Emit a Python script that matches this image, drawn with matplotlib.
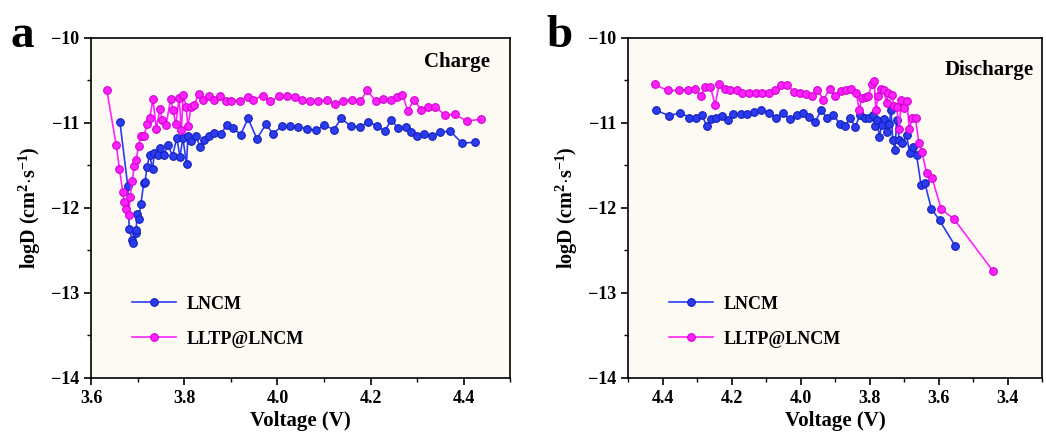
import numpy as np
import matplotlib
matplotlib.use('Agg')
import matplotlib.pyplot as plt
from matplotlib.ticker import MultipleLocator

plt.rcParams['font.family'] = 'Liberation Serif'
plt.rcParams['font.weight'] = 'bold'
plt.rcParams['mathtext.fontset'] = 'custom'
plt.rcParams['mathtext.rm'] = 'Liberation Serif:bold'
plt.rcParams['mathtext.bf'] = 'Liberation Serif:bold'

# ---- charge (panel a) ----
chg_lncm_v = [3.662, 3.679, 3.682, 3.689, 3.691, 3.696, 3.697, 3.699, 3.702, 3.707, 3.713, 3.716,
              3.720, 3.726, 3.732, 3.736, 3.743, 3.748, 3.757, 3.765, 3.775, 3.784, 3.791, 3.797,
              3.805, 3.808, 3.815, 3.825, 3.834, 3.843, 3.854, 3.864, 3.879, 3.891, 3.904, 3.921,
              3.937, 3.956, 3.975, 3.991, 4.009, 4.027, 4.045, 4.064, 4.082, 4.101, 4.121, 4.137,
              4.157, 4.177, 4.195, 4.214, 4.230, 4.244, 4.259, 4.275, 4.287, 4.300, 4.314, 4.332,
              4.348, 4.371, 4.396, 4.425]
chg_lncm_d = [-10.99, -11.75, -12.25, -12.38, -12.42, -12.30, -12.26, -12.07, -12.13, -11.96, -11.71, -11.70,
              -11.52, -11.38, -11.55, -11.36, -11.38, -11.30, -11.38, -11.26, -11.39, -11.18, -11.40, -11.18,
              -11.48, -11.16, -11.22, -11.16, -11.28, -11.20, -11.16, -11.12, -11.13, -11.03, -11.06, -11.14,
              -10.95, -11.19, -11.02, -11.13, -11.04, -11.04, -11.05, -11.07, -11.09, -11.03, -11.08, -10.95,
              -11.04, -11.05, -10.99, -11.04, -11.10, -10.97, -11.06, -11.05, -11.11, -11.16, -11.13, -11.16,
              -11.11, -11.10, -11.24, -11.23]

chg_lltp_v = [3.634, 3.654, 3.661, 3.668, 3.671, 3.675, 3.681, 3.684, 3.688, 3.693, 3.697, 3.702,
              3.707, 3.714, 3.720, 3.726, 3.733, 3.740, 3.748, 3.753, 3.761, 3.771, 3.776, 3.782,
              3.789, 3.794, 3.798, 3.804, 3.808, 3.815, 3.822, 3.831, 3.841, 3.854, 3.864, 3.877,
              3.889, 3.901, 3.920, 3.936, 3.948, 3.968, 3.984, 4.004, 4.020, 4.037, 4.052, 4.070,
              4.088, 4.107, 4.123, 4.141, 4.161, 4.177, 4.193, 4.211, 4.227, 4.243, 4.257, 4.268,
              4.280, 4.293, 4.309, 4.324, 4.339, 4.359, 4.380, 4.406, 4.436]
chg_lltp_d = [-10.62, -11.26, -11.54, -11.81, -11.93, -12.01, -12.09, -11.87, -11.69, -11.51, -11.44, -11.27,
              -11.16, -11.16, -11.01, -10.95, -10.72, -11.07, -10.84, -10.97, -11.03, -10.72, -10.85, -11.02,
              -10.71, -11.09, -10.67, -10.81, -11.04, -10.81, -10.79, -10.66, -10.73, -10.69, -10.73, -10.68,
              -10.75, -10.74, -10.74, -10.70, -10.73, -10.68, -10.75, -10.69, -10.68, -10.70, -10.73, -10.75,
              -10.75, -10.73, -10.78, -10.74, -10.73, -10.75, -10.62, -10.75, -10.72, -10.73, -10.70, -10.67,
              -10.86, -10.73, -10.85, -10.81, -10.81, -10.91, -10.90, -10.98, -10.96]

# ---- discharge (panel b) ----
dis_lncm_v = [4.421, 4.381, 4.349, 4.323, 4.304, 4.287, 4.272, 4.261, 4.246, 4.229, 4.212, 4.195,
              4.174, 4.155, 4.136, 4.114, 4.092, 4.073, 4.051, 4.032, 4.011, 3.993, 3.977, 3.958,
              3.940, 3.924, 3.905, 3.887, 3.871, 3.857, 3.842, 3.828, 3.813, 3.801, 3.791, 3.784,
              3.778, 3.772, 3.765, 3.759, 3.751, 3.743, 3.738, 3.733, 3.726, 3.722, 3.714, 3.705,
              3.693, 3.684, 3.674, 3.664, 3.651, 3.640, 3.621, 3.597, 3.552]
dis_lncm_d = [-10.85, -10.92, -10.88, -10.94, -10.95, -10.91, -11.04, -10.96, -10.95, -10.92, -10.97, -10.90,
              -10.90, -10.90, -10.87, -10.85, -10.88, -10.94, -10.89, -10.96, -10.91, -10.89, -10.93, -10.99,
              -10.85, -10.95, -10.91, -11.01, -11.04, -10.94, -11.05, -10.91, -10.95, -10.94, -10.91, -11.04,
              -10.97, -11.17, -11.03, -10.96, -11.11, -11.01, -10.85, -11.20, -11.32, -10.97, -11.20, -11.24,
              -11.15, -11.36, -11.28, -11.38, -11.73, -11.71, -12.01, -12.15, -12.45]

dis_lltp_v = [4.424, 4.386, 4.354, 4.328, 4.307, 4.289, 4.278, 4.262, 4.248, 4.237, 4.220, 4.205,
              4.186, 4.169, 4.150, 4.131, 4.111, 4.092, 4.076, 4.057, 4.039, 4.018, 4.001, 3.984,
              3.967, 3.953, 3.934, 3.916, 3.900, 3.884, 3.868, 3.854, 3.839, 3.830, 3.823, 3.811,
              3.804, 3.794, 3.787, 3.782, 3.775, 3.768, 3.759, 3.751, 3.746, 3.736, 3.730, 3.722,
              3.714, 3.708, 3.701, 3.692, 3.685, 3.676, 3.667, 3.657, 3.648, 3.635, 3.619, 3.592,
              3.556, 3.443]
dis_lltp_d = [-10.55, -10.62, -10.62, -10.61, -10.60, -10.69, -10.58, -10.58, -10.79, -10.55, -10.60, -10.61,
              -10.61, -10.65, -10.65, -10.65, -10.65, -10.65, -10.61, -10.56, -10.56, -10.64, -10.65, -10.66,
              -10.69, -10.61, -10.73, -10.60, -10.69, -10.63, -10.62, -10.60, -10.65, -10.85, -10.71, -10.70,
              -10.69, -10.54, -10.51, -10.85, -10.69, -10.60, -10.61, -10.77, -10.65, -10.67, -10.80, -10.81,
              -11.07, -10.73, -10.83, -10.75, -11.07, -10.95, -10.95, -11.24, -11.35, -11.59, -11.65, -12.02,
              -12.13, -12.74]

blue = '#2b3cf0'
blue_edge = '#1420b8'
pink = '#ff22ff'
pink_edge = '#d000d0'

fig = plt.figure(figsize=(10.46, 4.41), dpi=100)
ax1 = fig.add_axes([0.087, 0.1435, 0.401, 0.771])
ax2 = fig.add_axes([0.6007, 0.1435, 0.3955, 0.771])


def style(ax, xlim, title, tx, ty):
    ax.set_facecolor('#fdfaf4')
    ax.set_xlim(*xlim)
    ax.set_ylim(-14, -10)
    ax.xaxis.set_major_locator(MultipleLocator(0.2))
    ax.xaxis.set_minor_locator(MultipleLocator(0.1))
    ax.yaxis.set_major_locator(MultipleLocator(1))
    ax.yaxis.set_minor_locator(MultipleLocator(0.5))
    ax.tick_params(which='both', direction='out', top=False, right=False, labelsize=13)
    ax.tick_params(which='major', length=5, width=1.2)
    ax.tick_params(which='minor', length=3, width=1.0)
    for s in ax.spines.values():
        s.set_linewidth(1.2)
    ax.set_xlabel('Voltage (V)', fontsize=15, fontweight='bold', labelpad=3)
    ax.set_ylabel(r'logD (cm$^{2}$$\cdot$s$^{-1}$)', fontsize=14.5, fontweight='bold', labelpad=6)
    ax.text(tx, ty, title, transform=ax.transAxes, ha='right', va='center',
            fontsize=15, fontweight='bold')
    ax.legend(loc='center left', bbox_to_anchor=(0.06, 0.165), frameon=False,
              fontsize=13, handlelength=2.4, handletextpad=0.6, labelspacing=1.0)


for ax, (v1, d1, v2, d2) in [(ax1, (chg_lncm_v, chg_lncm_d, chg_lltp_v, chg_lltp_d)),
                             (ax2, (dis_lncm_v, dis_lncm_d, dis_lltp_v, dis_lltp_d))]:
    ax.plot(v1, d1, '-o', color=blue, lw=1.2, ms=5.5, mfc=blue, mec=blue_edge, mew=0.8, label='LNCM')
    ax.plot(v2, d2, '-o', color=pink, lw=1.2, ms=5.5, mfc=pink, mec=pink_edge, mew=0.8, label='LLTP@LNCM')

style(ax1, (3.6, 4.5), 'Charge', 0.951, 0.928)
style(ax2, (4.5, 3.3), 'Discharge', 0.979, 0.905)

fig.text(0.010, 0.918, 'a', fontsize=34, fontweight='bold', va='center', ha='left')
fig.text(0.522, 0.918, 'b', fontsize=34, fontweight='bold', va='center', ha='left')

fig.savefig('out.png', dpi=100)
